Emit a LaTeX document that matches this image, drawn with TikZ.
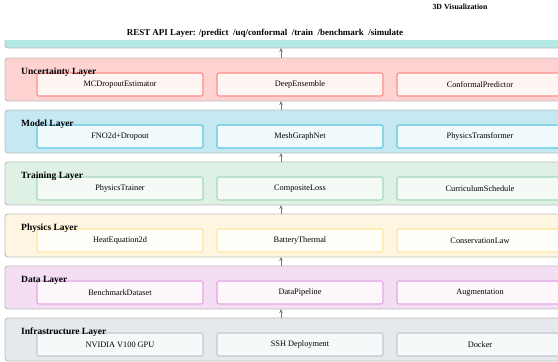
\documentclass[tikz,border=0pt]{standalone}
\usepackage{fontspec}
\setmainfont{Liberation Serif}
\usepackage{tikz}
\usetikzlibrary{positioning,arrows.meta}
\definecolor{edgegray}{HTML}{BDBDBD}
\definecolor{arrowgray}{HTML}{7A7A7A}
\definecolor{restfill}{HTML}{B3E9E5}
\definecolor{uqfill}{HTML}{FFD2D2}
\definecolor{uqline}{HTML}{FF8C8C}
\definecolor{uqbox}{HTML}{FFF5F3}
\definecolor{modelfill}{HTML}{C6E8F2}
\definecolor{modelline}{HTML}{5CC8E2}
\definecolor{modelbox}{HTML}{F1FAFC}
\definecolor{trainfill}{HTML}{DFF0E5}
\definecolor{trainline}{HTML}{A2DABB}
\definecolor{trainbox}{HTML}{F5FAF7}
\definecolor{physfill}{HTML}{FFF6E1}
\definecolor{physline}{HTML}{FFE5A0}
\definecolor{physbox}{HTML}{FFFDF8}
\definecolor{datafill}{HTML}{F4DEF3}
\definecolor{dataline}{HTML}{E8A4E6}
\definecolor{databox}{HTML}{FDF7FC}
\definecolor{infrafill}{HTML}{E5E9EC}
\definecolor{infraline}{HTML}{BECAD0}
\definecolor{infrabox}{HTML}{F6F9FA}
\tikzset{
  layer/.style={draw=edgegray,line width=0.9pt,rounded corners=3pt,minimum width=570pt,minimum height=43pt,inner sep=0pt,outer sep=0pt},
  comp/.style={rounded corners=2pt,line width=1.1pt,minimum width=166pt,minimum height=23pt,inner sep=0pt,outer sep=0pt,font=\fontsize{8.3}{10}\selectfont},
  uqlayer/.style={layer,fill=uqfill},
  uqcomp/.style={comp,draw=uqline,fill=uqbox},
  modellayer/.style={layer,fill=modelfill},
  modelcomp/.style={comp,draw=modelline,fill=modelbox},
  trainlayer/.style={layer,fill=trainfill},
  traincomp/.style={comp,draw=trainline,fill=trainbox},
  physlayer/.style={layer,fill=physfill},
  physcomp/.style={comp,draw=physline,fill=physbox},
  datalayer/.style={layer,fill=datafill},
  datacomp/.style={comp,draw=dataline,fill=databox},
  infralayer/.style={layer,fill=infrafill},
  infracomp/.style={comp,draw=infraline,fill=infrabox},
  layertitle/.style={font=\bfseries\fontsize{9.5}{11}\selectfont,anchor=base west,inner sep=0pt},
  uparrow/.style={-{Stealth[length=4pt,width=3.5pt]},draw=arrowgray,line width=0.8pt}
}
\begin{document}
\begin{tikzpicture}[x=1pt,y=-1pt,node distance=9pt and 14pt]
  \useasboundingbox (0,0) rectangle (558,362);
  \clip (0,0) rectangle (558,362);
  \node[font=\bfseries\fontsize{7.8}{9}\selectfont] (viz) at (460,7) {3D Visualization};
  \node[font=\bfseries\fontsize{8.95}{11}\selectfont] (apititle) at (265,33) {REST API Layer: /predict\ \ /uq/conformal\ \ /train\ \ /benchmark\ \ /simulate};
  % REST layer, only its lower edge shows
  \fill[restfill] (5,40) {[rounded corners=3pt] -- (5,48) -- (575,48)} -- (575,40) -- cycle;
  \draw[edgegray,line width=0.9pt] (5,40) {[rounded corners=3pt] -- (5,48) -- (575,48)} -- (575,40);
  \coordinate (restbase) at (281,48);
  % layers
  \node[uqlayer,anchor=north west] (uq) at (5,58) {};
  \node[modellayer,below=of uq] (model) {};
  \node[trainlayer,below=of model] (train) {};
  \node[physlayer,below=of train] (phys) {};
  \node[datalayer,below=of phys] (data) {};
  \node[infralayer,below=of data] (infra) {};
  % components
  \node[uqcomp,anchor=north west] (mcdrop) at ([xshift=32pt,yshift=-15pt]uq.north west) {MCDropoutEstimator};
  \node[uqcomp,right=of mcdrop] (ensemble) {DeepEnsemble};
  \node[uqcomp,right=of ensemble] (conformal) {ConformalPredictor};
  \node[modelcomp,anchor=north west] (fno) at ([xshift=32pt,yshift=-15pt]model.north west) {FNO2d+Dropout};
  \node[modelcomp,right=of fno] (meshgraph) {MeshGraphNet};
  \node[modelcomp,right=of meshgraph] (ptransformer) {PhysicsTransformer};
  \node[traincomp,anchor=north west] (trainer) at ([xshift=32pt,yshift=-15pt]train.north west) {PhysicsTrainer};
  \node[traincomp,right=of trainer] (comploss) {CompositeLoss};
  \node[traincomp,right=of comploss] (curriculum) {CurriculumSchedule};
  \node[physcomp,anchor=north west] (heateq) at ([xshift=32pt,yshift=-15pt]phys.north west) {HeatEquation2d};
  \node[physcomp,right=of heateq] (battery) {BatteryThermal};
  \node[physcomp,right=of battery] (conslaw) {ConservationLaw};
  \node[datacomp,anchor=north west] (benchdata) at ([xshift=32pt,yshift=-15pt]data.north west) {BenchmarkDataset};
  \node[datacomp,right=of benchdata] (pipeline) {DataPipeline};
  \node[datacomp,right=of pipeline] (augment) {Augmentation};
  \node[infracomp,anchor=north west] (gpu) at ([xshift=32pt,yshift=-15pt]infra.north west) {NVIDIA V100 GPU};
  \node[infracomp,right=of gpu] (ssh) {SSH Deployment};
  \node[infracomp,right=of ssh] (docker) {Docker};
  % layer titles
  \node[layertitle] (uqtitle) at ([xshift=16pt,yshift=-16pt]uq.north west) {Uncertainty Layer};
  \node[layertitle] (modeltitle) at ([xshift=16pt,yshift=-16pt]model.north west) {Model Layer};
  \node[layertitle] (traintitle) at ([xshift=16pt,yshift=-16pt]train.north west) {Training Layer};
  \node[layertitle] (physicstitle) at ([xshift=16pt,yshift=-16pt]phys.north west) {Physics Layer};
  \node[layertitle] (datatitle) at ([xshift=16pt,yshift=-16pt]data.north west) {Data Layer};
  \node[layertitle] (infratitle) at ([xshift=16pt,yshift=-16pt]infra.north west) {Infrastructure Layer};
  % flow upwards
  \draw[uparrow] (uq.north -| restbase) -- (restbase);
  \draw[uparrow] (model.north -| restbase) -- (uq.south -| restbase);
  \draw[uparrow] (train.north -| restbase) -- (model.south -| restbase);
  \draw[uparrow] (phys.north -| restbase) -- (train.south -| restbase);
  \draw[uparrow] (data.north -| restbase) -- (phys.south -| restbase);
  \draw[uparrow] (infra.north -| restbase) -- (data.south -| restbase);
\end{tikzpicture}
\end{document}
